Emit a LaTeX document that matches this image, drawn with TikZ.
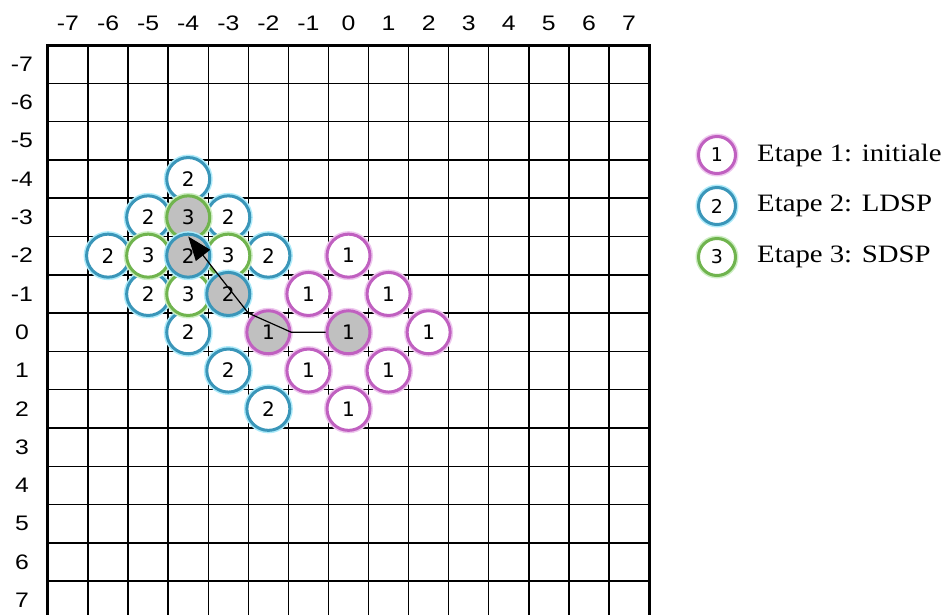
\documentclass[tikz,border=0pt]{standalone}
\usepackage{fontspec}
\usepackage{graphicx}
\setmainfont{Liberation Serif}
\newfontfamily\circfont{DejaVu Sans}
\newfontfamily\axfont{Liberation Sans}
\usetikzlibrary{arrows.meta}
\definecolor{cmag}{RGB}{192,96,192}
\definecolor{cmagL}{RGB}{238,200,238}
\definecolor{cteal}{RGB}{58,150,185}
\definecolor{ctealL}{RGB}{175,235,250}
\definecolor{cgrn}{RGB}{112,180,78}
\definecolor{cgrnL}{RGB}{205,238,195}
\definecolor{cgray}{RGB}{192,192,192}
\newcommand{\legstretch}[1]{\scalebox{1.15}[1]{#1}}
\newcommand{\axstretch}[1]{\scalebox{1.18}[1]{#1}}
\begin{document}
\begin{tikzpicture}[x=1pt,y=-1pt,
  gline/.style={line width=1.5pt, black},
  bline/.style={line width=3pt, black},
  axlab/.style={font=\axfont\fontsize{21}{21}\selectfont, inner sep=0pt},
  ptbase/.style={circle, minimum size=43pt, inner sep=0pt, line width=3pt, fill=white, font=\circfont\fontsize{20}{20}\selectfont},
  pa/.style={ptbase, draw=cmag, preaction={draw=cmagL, line width=6pt}},
  pb/.style={ptbase, draw=cteal, preaction={draw=ctealL, line width=6pt}},
  pc/.style={ptbase, draw=cgrn, preaction={draw=cgrnL, line width=6pt}},
  sel/.style={fill=cgray},
  lgsize/.style={minimum size=37pt, font=\circfont\fontsize{19}{19}\selectfont},
  legt/.style={anchor=west, inner sep=0pt, font=\fontsize{25}{25}\selectfont},
  conn/.style={line width=1.2pt, black},
]
\useasboundingbox (0,0) rectangle (951,614);
\begin{scope}[shift={(348.5pt,-332.25pt)}, x=40.07pt, y=-38.3pt]
  % grid
  \foreach \i in {-6.5,-5.5,...,6.5} \draw[gline] (\i,-7.5) -- (\i,7.7);
  \foreach \j in {-6.5,-5.5,...,6.5} \draw[gline] (-7.5,\j) -- (7.5,\j);
  \draw[bline] (-7.5,7.7) -- (-7.5,-7.5) -- (7.5,-7.5) -- (7.5,7.7);
  % axis labels
  \foreach \c in {-7,...,7} \node[axlab] (col\c) at (\c,-8.07) {\axstretch{\c}};
  \foreach \r in {-7,...,7} \node[axlab] (row\r) at (-8.15,\r) {\axstretch{\r}};
  % stage 1
  \node[pa] (m1) at (0,-2) {1};
  \node[pa] (m2) at (-1,-1) {1};
  \node[pa] (m3) at (1,-1) {1};
  \node[pa,sel] (m4) at (-2,0) {1};
  \node[pa,sel] (m5) at (0,0) {1};
  \node[pa] (m6) at (2,0) {1};
  \node[pa] (m7) at (-1,1) {1};
  \node[pa] (m8) at (1,1) {1};
  \node[pa] (m9) at (0,2) {1};
  % stage 2
  \node[pb] (t1) at (-4,-4) {2};
  \node[pb] (t2) at (-5,-3) {2};
  \node[pb] (t3) at (-3,-3) {2};
  \node[pb] (t4) at (-6,-2) {2};
  \node[pb] (t5) at (-2,-2) {2};
  \node[pb] (t6) at (-5,-1) {2};
  \node[pb] (t7) at (-4,0) {2};
  \node[pb] (t8) at (-3,1) {2};
  \node[pb] (t9) at (-2,2) {2};
  % stage 3
  \node[pc,sel] (g1) at (-4,-3) {3};
  \node[pc] (g2) at (-5,-2) {3};
  \node[pc] (g3) at (-3,-2) {3};
  \node[pc] (g4) at (-4,-1) {3};
  % selected stage-2 points
  \node[pb,sel] (t10) at (-3,-1) {2};
  \node[pb,sel] (t11) at (-4,-2) {2};
  % path
  \coordinate (bend) at (-2.5,-0.5);
  \coordinate (tipend) at (-4,-2.5);
  \draw[conn, -{Triangle[length=24pt,width=18pt]}] (m5.west) -- (m4.east) -- (bend) -- (tipend);
\end{scope}
% legend
\node[pa,lgsize] (l1) at (717,155) {1};
\node[pb,lgsize] (l2) at (717,206) {2};
\node[pc,lgsize] (l3) at (717,257) {3};
\node[legt] (lt1) at (757,155) {\legstretch{Etape 1: initiale}};
\node[legt] (lt2) at (757,206) {\legstretch{Etape 2: LDSP}};
\node[legt] (lt3) at (757,257) {\legstretch{Etape 3: SDSP}};
\end{tikzpicture}
\end{document}
